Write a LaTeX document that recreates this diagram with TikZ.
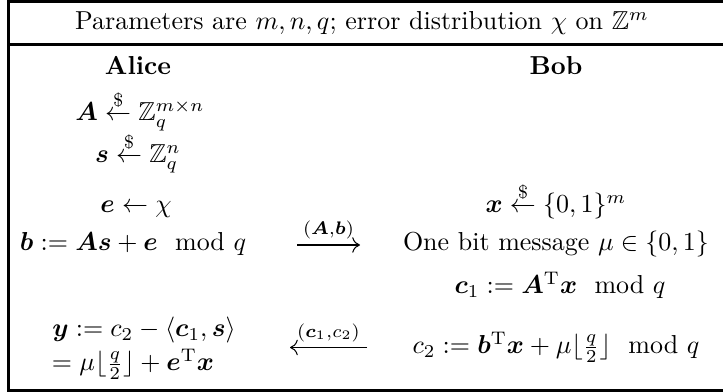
\documentclass[tikz,border=0pt]{standalone}
\usepackage{amsmath,amssymb,bm}
\usetikzlibrary{arrows.meta}
\newcommand{\sampled}{\overset{\$}{\leftarrow}}

\begin{document}
\begin{tikzpicture}[x=0.385pt, y=-0.385pt,
    entry/.style={anchor=base, inner sep=0pt},
    party/.style={entry, font=\bfseries},
    msg/.style={-{To[length=3pt,width=6pt]}, line width=0.4pt},
    frame/.style={line width=1.15pt}
  ]
    \useasboundingbox (0,0) rectangle (723,392);
    % outer box and header rule
    \draw[frame] (8.5,1.5) rectangle (745,390.5);
    \draw[frame] (8.5,44.5) -- (745,44.5);
    \node[entry] (params) at (362,30)
      {Parameters are $m, n, q$; error distribution $\chi$ on $\mathbb{Z}^m$};

    % Alice
    \node[party] (alice) at (138,75) {Alice};
    \node[entry] (sampA) at (140,121) {$\bm{A} \sampled \mathbb{Z}_q^{m\times n}$};
    \node[entry] (samps) at (138,163) {$\bm{s} \sampled \mathbb{Z}_q^{n}$};
    \node[entry] (sampe) at (136,213) {$\bm{e} \leftarrow \chi$};
    \node[entry] (pubkey) at (133,251) {$\bm{b} := \bm{A}\bm{s} + \bm{e} \mod{q}$};
    \node[entry] (decy) at (144,337) {$\bm{y} := c_2 - \langle \bm{c}_1, \bm{s} \rangle$};
    \node[entry] (decres) at (133,371) {$= \mu\lfloor\tfrac{q}{2}\rfloor + \bm{e}^{\mathrm{T}}\bm{x}$};

    % Bob
    \node[party] (bob) at (556,75) {Bob};
    \node[entry] (sampx) at (556,213) {$\bm{x} \sampled \{0,1\}^m$};
    \node[entry] (bitmsg) at (556,251) {One bit message $\mu \in \{0,1\}$};
    \node[entry] (encc1) at (560,294) {$\bm{c}_1 := \bm{A}^{\mathrm{T}}\bm{x} \mod{q}$};
    \node[entry] (encc2) at (556,354) {$c_2 := \bm{b}^{\mathrm{T}}\bm{x} + \mu\lfloor\tfrac{q}{2}\rfloor \mod{q}$};

    % messages
    \coordinate (ab-l) at (297,245);
    \coordinate (ab-r) at (360,245);
    \coordinate (cc-l) at (290,347.5);
    \coordinate (cc-r) at (367,347.5);
    \draw[msg] (ab-l) -- node[above, inner sep=2pt] {$\scriptstyle(\bm{A},\bm{b})$} (ab-r);
    \draw[msg] (cc-r) -- node[above, inner sep=2pt] {$\scriptstyle(\bm{c}_1,c_2)$} (cc-l);
  \end{tikzpicture}
\end{document}
